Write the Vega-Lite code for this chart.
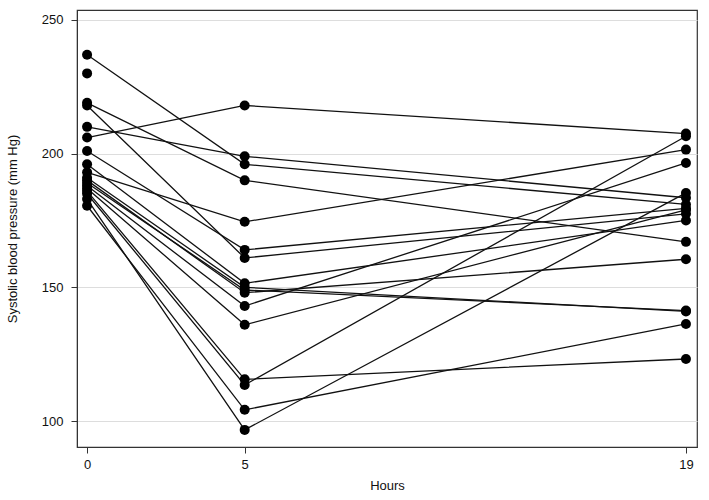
{
  "$schema": "https://vega.github.io/schema/vega-lite/v6.json",
  "width": 620,
  "height": 437,
  "autosize": {"type": "none"},
  "padding": {"left": 77, "top": 10, "right": 12, "bottom": 53},
  "background": "white",
  "config": {
    "font": "Liberation Sans",
    "view": {"stroke": "#333333", "strokeWidth": 1.2},
    "axis": {
      "labelFont": "Liberation Sans",
      "titleFont": "Liberation Sans",
      "labelFontSize": 13,
      "titleFontSize": 13,
      "titleFontWeight": "normal",
      "labelColor": "#111111",
      "titleColor": "#111111",
      "tickColor": "#333333",
      "domainColor": "#333333",
      "tickSize": 6
    }
  },
  "data": {
    "values": [
      {"subject": "A", "hours": 0, "sbp": 237}, {"subject": "A", "hours": 5, "sbp": 196}, {"subject": "A", "hours": 19, "sbp": 181},
      {"subject": "B", "hours": 0, "sbp": 230},
      {"subject": "C", "hours": 0, "sbp": 219}, {"subject": "C", "hours": 5, "sbp": 190}, {"subject": "C", "hours": 19, "sbp": 167},
      {"subject": "D", "hours": 0, "sbp": 218}, {"subject": "D", "hours": 5, "sbp": 161}, {"subject": "D", "hours": 19, "sbp": 177.5},
      {"subject": "E", "hours": 0, "sbp": 210}, {"subject": "E", "hours": 5, "sbp": 199}, {"subject": "E", "hours": 19, "sbp": 183.5},
      {"subject": "F", "hours": 0, "sbp": 206}, {"subject": "F", "hours": 5, "sbp": 218}, {"subject": "F", "hours": 19, "sbp": 207.5},
      {"subject": "G", "hours": 0, "sbp": 201}, {"subject": "G", "hours": 5, "sbp": 164}, {"subject": "G", "hours": 19, "sbp": 179.5},
      {"subject": "H", "hours": 0, "sbp": 196}, {"subject": "H", "hours": 5, "sbp": 151.5}, {"subject": "H", "hours": 19, "sbp": 175},
      {"subject": "I", "hours": 0, "sbp": 193}, {"subject": "I", "hours": 5, "sbp": 174.5}, {"subject": "I", "hours": 19, "sbp": 201.5},
      {"subject": "J", "hours": 0, "sbp": 191}, {"subject": "J", "hours": 5, "sbp": 150}, {"subject": "J", "hours": 19, "sbp": 141},
      {"subject": "K", "hours": 0, "sbp": 190}, {"subject": "K", "hours": 5, "sbp": 148}, {"subject": "K", "hours": 19, "sbp": 160.5},
      {"subject": "L", "hours": 0, "sbp": 189}, {"subject": "L", "hours": 5, "sbp": 149}, {"subject": "L", "hours": 19, "sbp": 141.3},
      {"subject": "M", "hours": 0, "sbp": 188}, {"subject": "M", "hours": 5, "sbp": 143}, {"subject": "M", "hours": 19, "sbp": 196.5},
      {"subject": "N", "hours": 0, "sbp": 187}, {"subject": "N", "hours": 5, "sbp": 136}, {"subject": "N", "hours": 19, "sbp": 179},
      {"subject": "O", "hours": 0, "sbp": 186}, {"subject": "O", "hours": 5, "sbp": 115.6}, {"subject": "O", "hours": 19, "sbp": 123.2},
      {"subject": "P", "hours": 0, "sbp": 185}, {"subject": "P", "hours": 5, "sbp": 113.5}, {"subject": "P", "hours": 19, "sbp": 206.5},
      {"subject": "Q", "hours": 0, "sbp": 183}, {"subject": "Q", "hours": 5, "sbp": 96.7}, {"subject": "Q", "hours": 19, "sbp": 185.3},
      {"subject": "R", "hours": 0, "sbp": 180.5}, {"subject": "R", "hours": 5, "sbp": 104.2}, {"subject": "R", "hours": 19, "sbp": 136.3}
    ]
  },
  "encoding": {
    "x": {
      "field": "hours", "type": "quantitative", "title": "Hours",
      "scale": {"domain": [-0.32, 19.35], "nice": false, "zero": false},
      "axis": {"values": [0, 5, 19], "grid": false, "titlePadding": 8, "labelPadding": 5}
    },
    "y": {
      "field": "sbp", "type": "quantitative", "title": "Systolic blood pressure (mm Hg)",
      "scale": {"domain": [90.3, 253.7], "nice": false, "zero": false},
      "axis": {"values": [100, 150, 200, 250], "grid": true, "gridColor": "#dddddd", "gridWidth": 1, "titlePadding": 22, "labelPadding": 8}
    }
  },
  "layer": [
    {
      "mark": {"type": "line", "color": "#111111", "strokeWidth": 1.3},
      "encoding": {"detail": {"field": "subject"}, "order": {"field": "hours"}}
    },
    {
      "mark": {"type": "point", "filled": true, "shape": "circle", "size": 100, "color": "#000000", "opacity": 1}
    }
  ]
}
